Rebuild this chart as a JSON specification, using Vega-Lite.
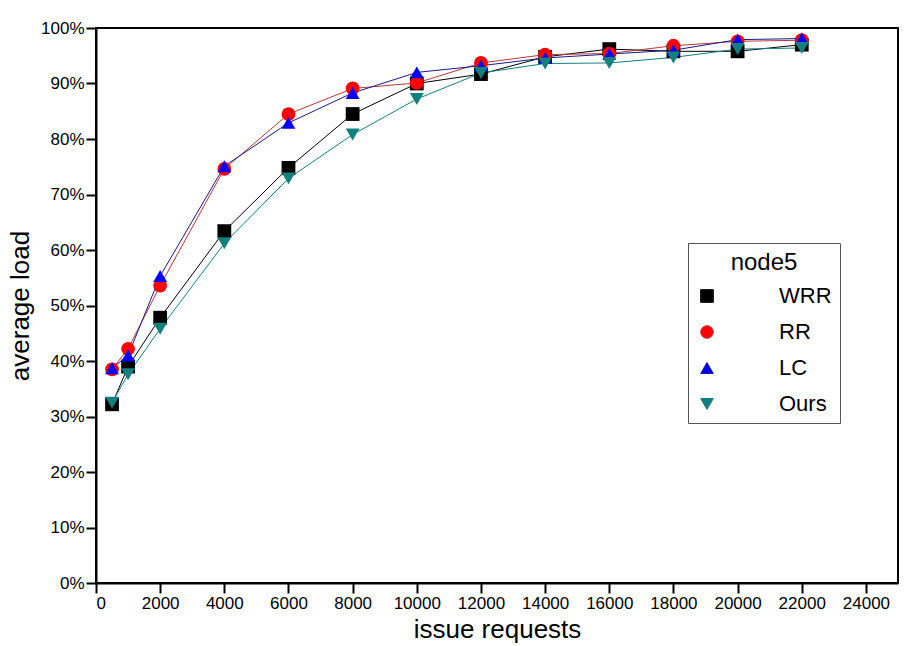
{
  "$schema": "https://vega.github.io/schema/vega-lite/v6.json",
  "width": 802,
  "height": 555,
  "autosize": {"type": "none"},
  "padding": {"left": 96, "top": 28, "right": 12, "bottom": 63},
  "background": "white",
  "config": {
    "view": {"stroke": "black", "strokeWidth": 2},
    "font": "Liberation Sans",
    "axis": {
      "labelFont": "Liberation Sans",
      "labelFontSize": 17,
      "labelColor": "black",
      "titleFont": "Liberation Sans",
      "titleFontSize": 26,
      "titleFontWeight": "normal",
      "titleColor": "black",
      "domainColor": "black",
      "domainWidth": 2,
      "grid": false
    }
  },
  "data": {
    "values": [
      {"x": 500, "y": 0.322, "s": "WRR"},
      {"x": 1000, "y": 0.39, "s": "WRR"},
      {"x": 2000, "y": 0.478, "s": "WRR"},
      {"x": 4000, "y": 0.634, "s": "WRR"},
      {"x": 6000, "y": 0.748, "s": "WRR"},
      {"x": 8000, "y": 0.845, "s": "WRR"},
      {"x": 10000, "y": 0.9, "s": "WRR"},
      {"x": 12000, "y": 0.917, "s": "WRR"},
      {"x": 14000, "y": 0.948, "s": "WRR"},
      {"x": 16000, "y": 0.962, "s": "WRR"},
      {"x": 18000, "y": 0.958, "s": "WRR"},
      {"x": 20000, "y": 0.958, "s": "WRR"},
      {"x": 22000, "y": 0.97, "s": "WRR"},
      {"x": 500, "y": 0.385, "s": "RR"},
      {"x": 1000, "y": 0.422, "s": "RR"},
      {"x": 2000, "y": 0.536, "s": "RR"},
      {"x": 4000, "y": 0.746, "s": "RR"},
      {"x": 6000, "y": 0.845, "s": "RR"},
      {"x": 8000, "y": 0.891, "s": "RR"},
      {"x": 10000, "y": 0.901, "s": "RR"},
      {"x": 12000, "y": 0.937, "s": "RR"},
      {"x": 14000, "y": 0.952, "s": "RR"},
      {"x": 16000, "y": 0.954, "s": "RR"},
      {"x": 18000, "y": 0.968, "s": "RR"},
      {"x": 20000, "y": 0.976, "s": "RR"},
      {"x": 22000, "y": 0.978, "s": "RR"},
      {"x": 500, "y": 0.387, "s": "LC"},
      {"x": 1000, "y": 0.41, "s": "LC"},
      {"x": 2000, "y": 0.553, "s": "LC"},
      {"x": 4000, "y": 0.751, "s": "LC"},
      {"x": 6000, "y": 0.829, "s": "LC"},
      {"x": 8000, "y": 0.883, "s": "LC"},
      {"x": 10000, "y": 0.92, "s": "LC"},
      {"x": 12000, "y": 0.932, "s": "LC"},
      {"x": 14000, "y": 0.946, "s": "LC"},
      {"x": 16000, "y": 0.953, "s": "LC"},
      {"x": 18000, "y": 0.96, "s": "LC"},
      {"x": 20000, "y": 0.979, "s": "LC"},
      {"x": 22000, "y": 0.981, "s": "LC"},
      {"x": 500, "y": 0.325, "s": "Ours"},
      {"x": 1000, "y": 0.376, "s": "Ours"},
      {"x": 2000, "y": 0.458, "s": "Ours"},
      {"x": 4000, "y": 0.612, "s": "Ours"},
      {"x": 6000, "y": 0.729, "s": "Ours"},
      {"x": 8000, "y": 0.808, "s": "Ours"},
      {"x": 10000, "y": 0.872, "s": "Ours"},
      {"x": 12000, "y": 0.919, "s": "Ours"},
      {"x": 14000, "y": 0.936, "s": "Ours"},
      {"x": 16000, "y": 0.937, "s": "Ours"},
      {"x": 18000, "y": 0.947, "s": "Ours"},
      {"x": 20000, "y": 0.962, "s": "Ours"},
      {"x": 22000, "y": 0.964, "s": "Ours"}
    ]
  },
  "encoding": {
    "x": {
      "field": "x", "type": "quantitative",
      "scale": {"domain": [0, 25000], "nice": false},
      "axis": {"values": [0,2000,4000,6000,8000,10000,12000,14000,16000,18000,20000,22000,24000], "format": "d", "title": "issue requests", "tickSize": 10, "tickWidth": 2, "tickColor": "black", "labelPadding": 2, "titlePadding": 5}
    },
    "y": {
      "field": "y", "type": "quantitative",
      "scale": {"domain": [0, 1], "nice": false},
      "axis": {"values": [0,0.1,0.2,0.3,0.4,0.5,0.6,0.7,0.8,0.9,1.0], "format": ".0%", "title": "average load", "tickSize": 10, "tickWidth": 2, "tickColor": "black", "labelPadding": 2, "titlePadding": 7}
    }
  },
  "layer": [
    {
      "mark": {"type": "line", "strokeWidth": 1},
      "encoding": {
        "stroke": {
          "field": "s", "type": "nominal",
          "scale": {"domain": ["WRR", "RR", "LC", "Ours"], "range": ["#000000", "#b83838", "#1a1a8c", "#138080"]}
        },
        "detail": {"field": "s"}
      }
    },
    {
      "mark": {"type": "point", "filled": true, "size": 190, "opacity": 1},
      "encoding": {
        "fill": {
          "field": "s", "type": "nominal",
          "scale": {"domain": ["WRR", "RR", "LC", "Ours"], "range": ["#000000", "#ff0000", "#0000ff", "#138080"]}
        },
        "shape": {
          "field": "s", "type": "nominal",
          "scale": {"domain": ["WRR", "RR", "LC", "Ours"], "range": ["square", "circle", "triangle-up", "triangle-down"]},
          "legend": {
            "title": "node5",
            "orient": "none",
            "legendX": 592,
            "legendY": 215,
            "padding": 8,
            "strokeColor": "#555555",
            "fillColor": "white",
            "titleFont": "Liberation Sans",
            "titleFontSize": 24,
            "titleFontWeight": "normal",
            "titleColor": "black",
            "titleAnchor": "middle",
            "titlePadding": 10,
            "labelFont": "Liberation Sans",
            "labelFontSize": 22,
            "labelColor": "black",
            "labelOffset": 61,
            "symbolSize": 160,
            "symbolStrokeWidth": 1,
            "rowPadding": 14
          }
        }
      }
    }
  ]
}
